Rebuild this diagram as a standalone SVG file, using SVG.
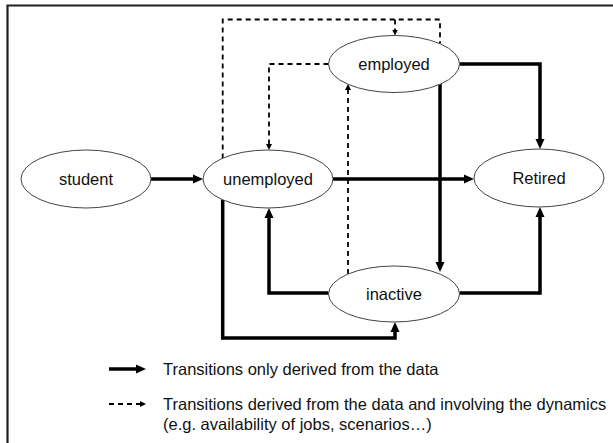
<svg xmlns="http://www.w3.org/2000/svg" width="613" height="443" viewBox="0 0 613 443">
<defs>
<style>
.node ellipse{fill:#fff;stroke:#444;stroke-width:1}
text{font-family:"Liberation Sans",Arial,sans-serif;font-size:16.5px;fill:#111}
.node text{text-anchor:middle}
.solid{fill:none;stroke:#000;stroke-width:3.5;marker-end:url(#ah)}
.plain{fill:none;stroke:#000;stroke-width:3.5}
.dash{fill:none;stroke:#000;stroke-width:1.8;stroke-dasharray:5 4}
.dasharr{fill:none;stroke:#000;stroke-width:1.8;stroke-dasharray:5 4;marker-end:url(#ahs)}
</style>
<marker id="ah" markerUnits="userSpaceOnUse" markerWidth="12" markerHeight="12" viewBox="0 -6 12 12" refX="1" refY="0" orient="auto">
<path d="M0,-4.5 L10,0 L0,4.5 z" fill="#000"/>
</marker>
<marker id="ahs" markerUnits="userSpaceOnUse" markerWidth="8" markerHeight="8" viewBox="0 -4 8 8" refX="0.5" refY="0" orient="auto">
<path d="M0,-3 L6,0 L0,3 z" fill="#000"/>
</marker>
</defs>
<rect width="613" height="443" fill="#fff"/>
<path d="M7.5,443 V5.5 H613" fill="none" stroke="#231f20" stroke-width="2.2"/>

<g id="connectors">
<path class="solid" d="M151,179 H194"/>
<path class="solid" d="M333,179 H465"/>
<path class="solid" d="M459.5,64 H540 V140"/>
<path class="solid" d="M440,84 V263"/>
<path class="solid" d="M459.5,293 H540 V216"/>
<path class="solid" d="M328.5,293 H269 V217"/>
<path class="solid" d="M222.7,199.5 V338 H395 V331"/>
<path class="dash" d="M222.7,158.5 V19.5 H440 V43.6"/>
<path class="dasharr" d="M395,19.5 V30"/>
<path class="dasharr" d="M328.5,64 H269 V144.5"/>
<path class="dasharr" d="M348,274 V89.5"/>
</g>

<g id="student" class="node"><ellipse cx="86" cy="179" rx="65" ry="29"/><text x="86" y="185">student</text></g>
<g id="unemployed" class="node"><ellipse cx="268" cy="179" rx="65" ry="29"/><text x="268" y="185">unemployed</text></g>
<g id="retired" class="node"><ellipse cx="539" cy="178" rx="65" ry="29"/><text x="539" y="184">Retired</text></g>
<g id="employed" class="node"><ellipse cx="394" cy="64" rx="65.5" ry="28.5"/><text x="394" y="70">employed</text></g>
<g id="inactive" class="node"><ellipse cx="394" cy="294" rx="65.5" ry="28"/><text x="394" y="300">inactive</text></g>

<g id="legend">
<path class="solid" d="M109,369 H137"/>
<text x="163" y="375">Transitions only derived from the data</text>
<path class="dasharr" d="M109,404 H140.5"/>
<text x="163" y="410">Transitions derived from the data and involving the dynamics</text>
<text x="163" y="430">(e.g. availability of jobs, scenarios…)</text>
</g>
</svg>
